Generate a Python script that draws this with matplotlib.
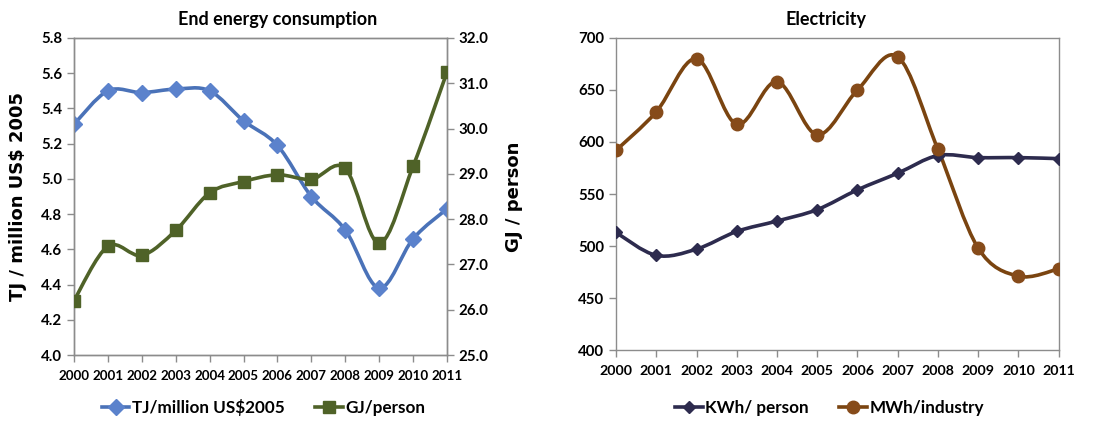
import numpy as np
import matplotlib
matplotlib.use("Agg")
import matplotlib.pyplot as plt
from matplotlib.path import Path
from matplotlib.patches import PathPatch
from matplotlib.lines import Line2D

plt.rcParams['font.family'] = ['Lato', 'DejaVu Sans']
plt.rcParams['font.weight'] = 'bold'

# ============================================================================
# DATA
# ============================================================================

years = [2000, 2001, 2002, 2003, 2004, 2005, 2006, 2007, 2008, 2009, 2010, 2011]

tj_per_gdp = [5.31, 5.50, 5.49, 5.51, 5.50, 5.33, 5.19, 4.90, 4.71, 4.38, 4.66, 4.83]
gj_per_person = [26.2, 27.4, 27.2, 27.75, 28.58, 28.83, 28.98, 28.88, 29.12, 27.47, 29.17, 31.25]

kwh_person = [513, 491, 497, 514, 524, 535, 554, 570, 587, 585, 585, 584]
mwh_industry = [592, 629, 680, 617, 658, 607, 650, 682, 593, 498, 471, 478]

GREY = '#8c8c8c'


def smooth_patch(x, y, color, lw):
    """Excel-like smoothed line drawn as cubic Bezier path"""
    x = np.asarray(x, dtype=float)
    y = np.asarray(y, dtype=float)
    pts = np.column_stack([x, y])
    n = len(pts)
    verts = [pts[0]]
    codes = [Path.MOVETO]
    for i in range(n - 1):
        p0 = pts[max(i - 1, 0)]
        p1 = pts[i]
        p2 = pts[i + 1]
        p3 = pts[min(i + 2, n - 1)]
        c1 = p1 + (p2 - p0) / 6.0
        c2 = p2 - (p3 - p1) / 6.0
        verts += [c1, c2, p2]
        codes += [Path.CURVE4] * 3
    return PathPatch(Path(verts, codes), facecolor='none', edgecolor=color,
                     lw=lw, capstyle='round', joinstyle='round', zorder=3)


def style_axis(ax):
    for s in ax.spines.values():
        s.set_color(GREY)
        s.set_linewidth(1.0)
    ax.tick_params(axis='both', colors=GREY, labelcolor='black',
                   direction='out', length=5, width=1.0, labelsize=10.8)


fig = plt.figure(figsize=(11.12, 4.24), dpi=100)

# ============================================================================
# LEFT : END ENERGY CONSUMPTION
# ============================================================================

ax1 = fig.add_axes([0.0665, 0.1627, 0.3355, 0.7477])
ax2 = ax1.twinx()

blue = '#4a72b8'
blue_mk = '#5b82cc'
green = '#4f6228'

ax1.add_patch(smooth_patch(years, tj_per_gdp, blue, 2.6))
ax1.plot(years, tj_per_gdp, linestyle='none', marker='D', markersize=8,
         color=blue_mk, zorder=4)
ax2.add_patch(smooth_patch(years, gj_per_person, green, 2.6))
ax2.plot(years, gj_per_person, linestyle='none', marker='s', markersize=8,
         color=green, zorder=4)

ax1.set_xlim(2000, 2011)
ax1.set_ylim(4.0, 5.8)
ax2.set_ylim(25.0, 32.0)
ax1.set_xticks(years)
ax1.set_yticks(np.arange(4.0, 5.81, 0.2))
ax2.set_yticks(np.arange(25.0, 32.01, 1.0))
ax1.set_yticklabels([f"{v:.1f}" for v in np.arange(4.0, 5.81, 0.2)])
ax2.set_yticklabels([f"{v:.1f}" for v in np.arange(25.0, 32.01, 1.0)])
style_axis(ax1)
style_axis(ax2)
ax1.tick_params(axis='x', pad=6, labelsize=9.6)
ax1.set_ylabel("TJ / million US$ 2005", fontsize=13, fontweight='bold',
               family=['DejaVu Sans'], labelpad=10)
ax2.set_ylabel("GJ / person", fontsize=13, fontweight='bold',
               family=['DejaVu Sans'], labelpad=12)

fig.text(0.25, 0.955, "End energy consumption", ha='center', va='center',
         fontsize=13, fontweight='bold')

h1 = [Line2D([], [], color=blue, lw=2.6, marker='D', markersize=8,
             markerfacecolor=blue_mk, markeredgecolor=blue_mk),
      Line2D([], [], color=green, lw=2.6, marker='s', markersize=8)]
fig.legend(h1, ["TJ/million US$2005", "GJ/person"], loc='center',
           bbox_to_anchor=(0.237, 0.038), ncol=2, frameon=False,
           fontsize=12.3, handlelength=1.6, columnspacing=1.8,
           handletextpad=0.15)

# ============================================================================
# RIGHT : ELECTRICITY
# ============================================================================

ax3 = fig.add_axes([0.554, 0.1745, 0.398, 0.7359])

navy = '#2d2b4e'
brown = '#7a4410'
brown_mk = '#864b1a'

ax3.add_patch(smooth_patch(years, kwh_person, navy, 2.6))
ax3.plot(years, kwh_person, linestyle='none', marker='D', markersize=6,
         color=navy, zorder=4)
ax3.add_patch(smooth_patch(years, mwh_industry, brown, 2.6))
ax3.plot(years, mwh_industry, linestyle='none', marker='o', markersize=9,
         color=brown_mk, zorder=4)

ax3.set_xlim(2000, 2011)
ax3.set_ylim(400, 700)
ax3.set_xticks(years)
ax3.set_yticks(np.arange(400, 701, 50))
style_axis(ax3)
ax3.tick_params(axis='x', pad=6, labelsize=10.2)

fig.text(0.743, 0.955, "Electricity", ha='center', va='center',
         fontsize=13, fontweight='bold')

h2 = [Line2D([], [], color=navy, lw=2.6, marker='D', markersize=6),
      Line2D([], [], color=brown, lw=2.6, marker='o', markersize=9,
             markerfacecolor=brown_mk, markeredgecolor=brown_mk)]
fig.legend(h2, ["KWh/ person", "MWh/industry"], loc='center',
           bbox_to_anchor=(0.746, 0.038), ncol=2, frameon=False,
           fontsize=12.3, handlelength=1.6, columnspacing=1.8,
           handletextpad=0.15)

fig.savefig("out.png", dpi=100)
